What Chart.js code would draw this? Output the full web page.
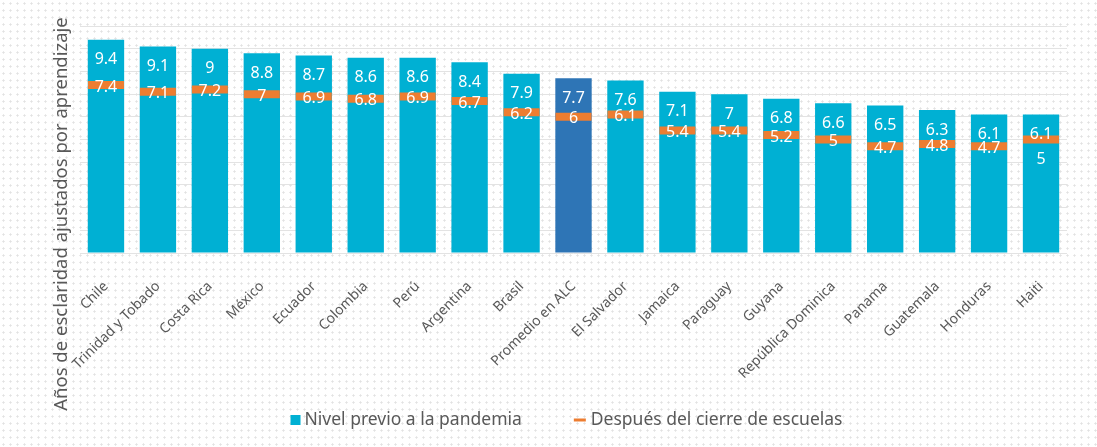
<!DOCTYPE html>
<html>
<head>
<meta charset="utf-8">
<script src="https://cdn.jsdelivr.net/npm/chart.js@4/dist/chart.umd.min.js"></script>
<style>
  html, body { margin: 0; padding: 0; }
  body {
    width: 1097px; height: 447px; overflow: hidden;
    background-color: #fff;
    background-image: radial-gradient(#e2e2e2 0.9px, transparent 1.3px);
    background-size: 7px 7px;
  }
  #wrap { position: relative; width: 1097px; height: 447px; }
</style>
</head>
<body>
<div id="wrap"><canvas id="chartAnios"></canvas></div>
<script>
const categorias = ["Chile", "Trinidad y Tobado", "Costa Rica", "México", "Ecuador", "Colombia", "Perú", "Argentina", "Brasil", "Promedio en ALC", "El Salvador", "Jamaica", "Paraguay", "Guyana", "República Dominica", "Panama", "Guatemala", "Honduras", "Haiti"];
const nivelPrevio = [9.4, 9.1, 9, 8.8, 8.7, 8.6, 8.6, 8.4, 7.9, 7.7, 7.6, 7.1, 7, 6.8, 6.6, 6.5, 6.3, 6.1, 6.1];
const despuesCierre = [7.4, 7.1, 7.2, 7, 6.9, 6.8, 6.9, 6.7, 6.2, 6, 6.1, 5.4, 5.4, 5.2, 5, 4.7, 4.8, 4.7, 5];
const etiquetaAbajo = ["Haiti"]; // label placed under the orange mark

const azul = "#00B0D3";
const azulALC = "#2E75B6";
const naranja = "#ED7D31";
const gris = "#595959";
const fuente = "'Noto Sans', sans-serif";

// value labels in white on the bars
const valueLabels = {
  id: "valueLabels",
  afterDatasetsDraw(chart) {
    const ctx = chart.ctx;
    ctx.save();
    ctx.fillStyle = "#fff";
    ctx.textAlign = "center";
    ctx.textBaseline = "middle";
    ctx.font = "16px " + fuente;
    chart.getDatasetMeta(0).data.forEach((bar, i) => {
      ctx.fillText(String(nivelPrevio[i]), bar.x, bar.y + 20);
    });
    chart.getDatasetMeta(1).data.forEach((pt, i) => {
      const dy = etiquetaAbajo.includes(categorias[i]) ? 20 : 2;
      ctx.fillText(String(despuesCierre[i]), pt.x, pt.y + dy);
    });
    ctx.restore();
  },
};

// y title centred on the whole canvas height
const yTitle = {
  id: "yTitle",
  afterDraw(chart) {
    const ctx = chart.ctx;
    ctx.save();
    ctx.translate(62, 214);
    ctx.rotate(-Math.PI / 2);
    ctx.textAlign = "center";
    ctx.textBaseline = "middle";
    ctx.fillStyle = gris;
    ctx.font = "18.5px " + fuente;
    ctx.fillText("Años de esclaridad ajustados por aprendizaje", 0, 0);
    ctx.restore();
  },
};

// legend drawn by hand, wide gap between the two entries
const leyenda = {
  id: "leyenda",
  afterDraw(chart) {
    const ctx = chart.ctx;
    const ds = chart.data.datasets;
    ctx.save();
    ctx.font = "17.5px " + fuente;
    ctx.textBaseline = "middle";
    ctx.fillStyle = gris;
    const w0 = ctx.measureText(ds[0].label).width;
    const w1 = ctx.measureText(ds[1].label).width;
    const total = 10 + 4 + w0 + 52 + 12 + 5 + w1;
    const area = chart.chartArea;
    let x = (area.left + area.right) / 2 - 7 - total / 2;
    const y = 420;
    ctx.fillStyle = azul;
    ctx.fillRect(x, y - 5, 10, 10);
    x += 14;
    ctx.fillStyle = gris;
    ctx.fillText(ds[0].label, x, y);
    x += w0 + 52;
    ctx.strokeStyle = naranja;
    ctx.lineWidth = 3;
    ctx.beginPath();
    ctx.moveTo(x, y);
    ctx.lineTo(x + 12, y);
    ctx.stroke();
    x += 17;
    ctx.fillText(ds[1].label, x, y);
    ctx.restore();
  },
};

document.addEventListener("DOMContentLoaded", () => {
  new Chart(document.querySelector("#chartAnios"), {
    type: "bar",
    data: {
      labels: categorias,
      datasets: [
        {
          label: "Nivel previo a la pandemia",
          data: nivelPrevio,
          backgroundColor: categorias.map((c) => (c === "Promedio en ALC" ? azulALC : azul)),
          barPercentage: 0.7,
          categoryPercentage: 1,
          order: 2,
        },
        {
          type: "line",
          label: "Después del cierre de escuelas",
          data: despuesCierre,
          showLine: false,
          borderColor: naranja,
          backgroundColor: naranja,
          pointStyle: "line",
          pointRadius: 18,
          pointHoverRadius: 18,
          pointBorderWidth: 8,
          borderWidth: 8,
          order: 1,
        },
      ],
    },
    options: {
      responsive: true,
      maintainAspectRatio: false,
      animation: false,
      layout: { padding: { left: 80, right: 30, top: 26, bottom: 48 } },
      scales: {
        x: {
          grid: { display: false },
          border: { display: false },
          ticks: {
            color: gris,
            font: { family: fuente, size: 14 },
            minRotation: 45,
            maxRotation: 45,
            padding: 17,
          },
        },
        y: {
          min: 0,
          max: 10,
          ticks: { display: false, stepSize: 1 },
          grid: { color: "#e3e3e3", drawTicks: false, lineWidth: 1 },
          border: { display: false },
        },
      },
      plugins: {
        tooltip: { enabled: false },
        legend: { display: false },
      },
    },
    plugins: [valueLabels, yTitle, leyenda],
  });
});
</script>
</body>
</html>
